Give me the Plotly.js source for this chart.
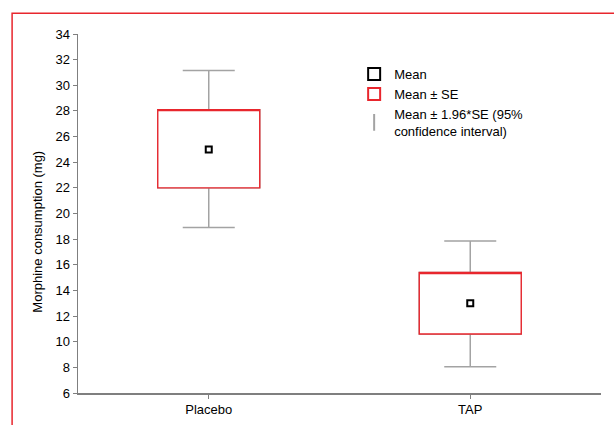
<!DOCTYPE html>
<html>
<head>
<meta charset="utf-8">
<script src="https://cdn.plot.ly/plotly-3.0.1.min.js"></script>
<style>
  html, body { margin: 0; padding: 0; background: #fff; }
</style>
</head>
<body>
<div id="chart" style="width:614px;height:425px;"></div>
<script>
// Data
const groups   = ['Placebo', 'TAP'];
const means    = [25.0, 13.0];
const seLow    = [22.0, 10.6];   // mean - SE
const seHigh   = [28.1, 15.4];   // mean + SE
const ciLow    = [18.9, 8.05];   // mean - 1.96*SE
const ciHigh   = [31.15, 17.85]; // mean + 1.96*SE
const yTicks   = [6, 8, 10, 12, 14, 16, 18, 20, 22, 24, 26, 28, 30, 32, 34];

const FONT = '"Liberation Sans", Arial, Helvetica, sans-serif';
const FS = 13;
const RED = '#e8262d';
const GREY = '#a3a3a3';
const AXIS = '#7f7f7f';

const meanTrace = {
  type: 'scatter', mode: 'markers', name: 'Mean',
  x: groups, y: means,
  marker: { symbol: 'square-open', size: 6, color: '#000', line: { width: 2, color: '#000' } },
  hoverinfo: 'skip'
};
const ciTrace = {
  type: 'box', name: 'CI',
  x: groups, q1: seLow, q3: seHigh, median: seLow,
  lowerfence: ciLow, upperfence: ciHigh,
  width: 0.39, whiskerwidth: 0.51,
  line: { color: GREY, width: 1.5 }, fillcolor: '#ffffff',
  hoverinfo: 'skip', showlegend: false
};
const seTrace = {
  type: 'box', name: 'Mean \u00b1 SE',
  x: groups, q1: seLow, q3: seHigh, median: seHigh,
  lowerfence: seLow, upperfence: seHigh,
  width: 0.39, whiskerwidth: 0,
  line: { color: RED, width: 1.4 }, fillcolor: '#ffffff',
  hoverinfo: 'skip', showlegend: true
};
const ciLegend = {
  type: 'scatter', mode: 'markers', name: 'Mean \u00b1 1.96*SE (95%<br>confidence interval)',
  x: [null], y: [null],
  marker: { symbol: 'line-ns-open', size: 12, color: GREY, line: { width: 1.5, color: GREY } },
  hoverinfo: 'skip'
};
meanTrace.legendrank = 1; seTrace.legendrank = 2; ciLegend.legendrank = 3;

const data = [meanTrace, ciTrace, seTrace, ciLegend];

const layout = {
  width: 614, height: 425,
  margin: { l: 78, r: 13, t: 34, b: 32 },
  paper_bgcolor: '#fff', plot_bgcolor: '#fff',
  font: { family: FONT, size: FS, color: '#000' },
  boxmode: 'overlay',
  showlegend: true,
  legend: {
    x: 0.528, y: 0.93, xanchor: 'left', yanchor: 'top',
    bgcolor: 'rgba(0,0,0,0)', borderwidth: 0,
    itemsizing: 'constant', itemwidth: 30,
    font: { family: FONT, size: FS, color: '#000' }
  },
  xaxis: {
    type: 'category', range: [-0.5, 1.5],
    showline: true, linecolor: AXIS, linewidth: 1.5,
    ticks: 'outside', ticklen: 4, tickcolor: AXIS, tickwidth: 1,
    showgrid: false, zeroline: false, fixedrange: true,
    tickfont: { family: FONT, size: FS, color: '#000' }
  },
  yaxis: {
    range: [6, 34], tickvals: yTicks, ticktext: yTicks.map(String),
    showline: true, linecolor: AXIS, linewidth: 1.5,
    ticks: 'outside', ticklen: 4, tickcolor: AXIS, tickwidth: 1,
    showgrid: false, zeroline: false, fixedrange: true,
    tickfont: { family: FONT, size: FS, color: '#000' }
  },
  annotations: [{
    text: 'Morphine consumption (mg)', textangle: -90,
    xref: 'paper', yref: 'paper', x: -0.078, y: 0.45,
    xanchor: 'center', yanchor: 'middle', showarrow: false,
    font: { family: FONT, size: FS, color: '#000' }
  }],
  shapes: [{
    type: 'rect', xref: 'paper', yref: 'paper',
    x0: -0.126, x1: 1.2, y0: -0.2, y1: 1.058,
    line: { color: RED, width: 1.5 }, fillcolor: 'rgba(0,0,0,0)', layer: 'above'
  }]
};

Plotly.newPlot('chart', data, layout, { displayModeBar: false, staticPlot: true });
</script>
</body>
</html>
